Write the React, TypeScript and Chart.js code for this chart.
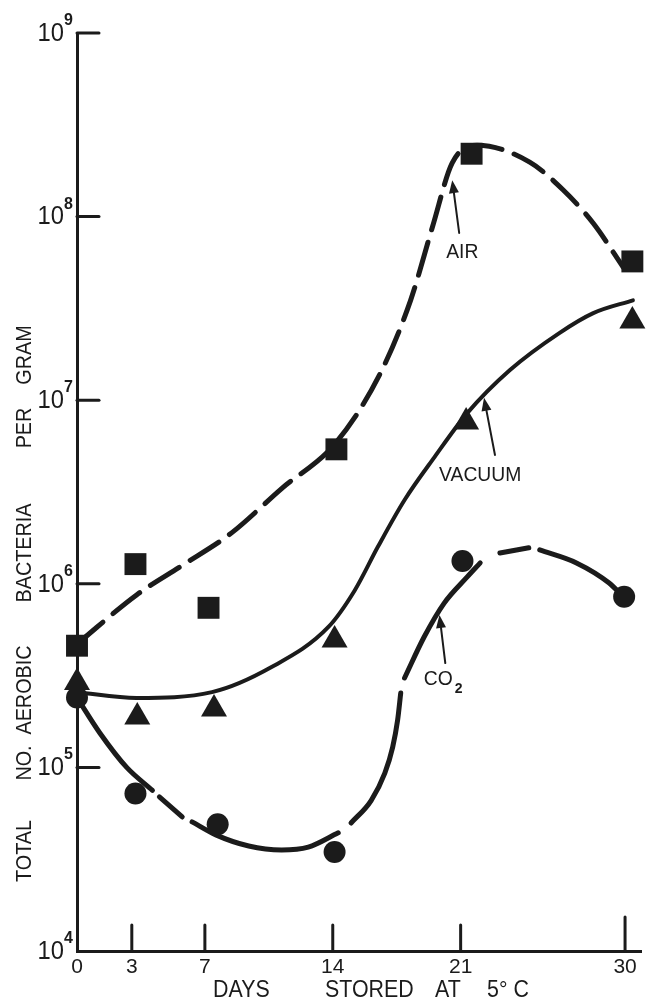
import React, { useEffect, useRef } from 'react';
import { Chart, registerables } from 'chart.js';

Chart.register(...registerables);

// ---- axis ticks ----
const dayTicks = [0, 3, 7, 14, 21, 30];
const countTicks = [1e4, 1e5, 1e6, 1e7, 1e8, 1e9];
const countExponents = ['4', '5', '6', '7', '8', '9'];

// ---- observed points ----
const airDays = [0, 3.2, 7.2, 14.2, 21.6, 30.4];
const airCounts = [4.6e5, 1.28e6, 7.4e5, 5.4e6, 2.2e8, 5.7e7];
const vacuumDays = [0, 3.3, 7.5, 14.1, 21.3, 30.4];
const vacuumCounts = [2.9e5, 1.88e5, 2.08e5, 4.94e5, 7.6e6, 2.7e7];
const co2Days = [0, 3.2, 7.7, 14.1, 21.1, 29.95];
const co2Counts = [2.4e5, 7.2e4, 4.9e4, 3.46e4, 1.33e6, 8.5e5];

// ---- fitted curves ----
const airCurveDays = [0, 3.26, 5.76, 8.48, 11.2, 14.13, 16.6, 18.26, 19.46, 20.54, 21.9, 24.78, 26.6, 28.26, 29.9];
const airCurveCounts = [4.7e5, 8.7e5, 1.26e6, 1.9e6, 3.3e6, 5.8e6, 1.4e7, 3.5e7, 8.8e7, 1.96e8, 2.45e8, 1.98e8, 1.4e8, 9.2e7, 5.3e7];

const vacuumCurveDays = [0, 3.26, 7.39, 10.65, 13.75, 15.2, 16.47, 17.93, 19.57, 21.36, 23.7, 26.4, 28.26, 30.43];
const vacuumCurveCounts = [2.57e5, 2.39e5, 2.57e5, 3.52e5, 5.8e5, 9.2e5, 1.59e6, 2.86e6, 4.9e6, 8.5e6, 1.46e7, 2.32e7, 2.98e7, 3.5e7];

const co2CurveADays = [0, 1.25, 2.72, 4.13];
const co2CurveACounts = [2.4e5, 1.54e5, 1.0e5, 7.5e4];
const co2CurveBDays = [4.51, 5.76];
const co2CurveBCounts = [6.9e4, 5.37e4];
const co2CurveCDays = [6.3, 7.6, 9.4, 11.2, 12.66, 14.3];
const co2CurveCCounts = [5.05e4, 4.29e4, 3.73e4, 3.55e4, 3.68e4, 4.4e4];
const co2CurveDDays = [15.0, 16.1, 16.85, 17.28, 17.55, 17.72];
const co2CurveDCounts = [4.98e4, 6.6e4, 9.3e4, 1.29e5, 1.81e5, 2.54e5];
const co2CurveEDays = [17.93, 19.0, 20.1, 21.36, 22.07];
const co2CurveECounts = [3.07e5, 5.13e5, 7.85e5, 1.09e6, 1.3e6];
const co2CurveFDays = [23.15, 24.73];
const co2CurveFCounts = [1.47e6, 1.57e6];
const co2CurveGDays = [25.33, 27.34, 29.13, 29.9];
const co2CurveGCounts = [1.53e6, 1.3e6, 1.01e6, 8.5e5];

// ---- annotation labels (data coordinates) ----
const labelTexts = ['AIR', 'VACUUM', 'CO'];
const labelDays = [21.09, 22.07, 19.78];
const labelCounts = [6.4e7, 3.92e6, 3.03e5];
const arrowTailDays = [20.92, 22.88, 20.16];
const arrowTailCounts = [8.15e7, 5.03e6, 3.7e5];
const arrowTipDays = [20.54, 22.28, 19.84];
const arrowTipCounts = [1.58e8, 1.03e7, 6.76e5];

const yTitleWords = ['TOTAL', 'NO.', 'AEROBIC', 'BACTERIA', 'PER', 'GRAM'];
const xTitleWords = ['DAYS', 'STORED', 'AT', '5° C'];

const INK = '#1b1b1b';
const FONT = '"Liberation Sans", Arial, sans-serif';

const zip = (xs: number[], ys: number[]) => xs.map((x, i) => ({ x, y: ys[i] }));

const curve = (xs: number[], ys: number[], width: number, dash: number[] = []) => ({
  type: 'scatter' as const,
  data: zip(xs, ys),
  showLine: true,
  borderColor: INK,
  borderWidth: width,
  borderDash: dash,
  borderCapStyle: 'round' as const,
  cubicInterpolationMode: 'monotone' as const,
  pointRadius: 0,
  pointHoverRadius: 0,
  clip: false as const,
  order: 2,
});

const markers = (xs: number[], ys: number[], style: string, radius: number) => ({
  type: 'scatter' as const,
  data: zip(xs, ys),
  showLine: false,
  pointStyle: style,
  pointRadius: radius,
  pointHoverRadius: radius,
  pointBackgroundColor: INK,
  pointBorderColor: INK,
  pointBorderWidth: 0,
  clip: false as const,
  order: 1,
});

// text drawn slightly condensed, like the stencil lettering of the original
const squeezedText = (ctx: CanvasRenderingContext2D, text: string, x: number, y: number, sx: number) => {
  ctx.save();
  ctx.translate(x, y);
  ctx.scale(sx, 1);
  ctx.fillText(text, 0, 0);
  ctx.restore();
};

const overlay = {
  id: 'overlay',
  afterDraw(chart: any) {
    const ctx = chart.ctx as CanvasRenderingContext2D;
    const xs = chart.scales.x;
    const ys = chart.scales.y;
    ctx.save();
    ctx.strokeStyle = INK;
    ctx.fillStyle = INK;
    ctx.lineCap = 'round';
    ctx.lineWidth = 3;
    const x0 = xs.left;
    const yb = ys.bottom;

    // y ticks (inward) and labels
    countTicks.forEach((v, i) => {
      const py = ys.getPixelForValue(v);
      if (i > 0) {
        ctx.beginPath();
        ctx.moveTo(x0, py);
        ctx.lineTo(x0 + 22, py);
        ctx.stroke();
      }
      ctx.font = `25px ${FONT}`;
      ctx.textAlign = 'right';
      ctx.textBaseline = 'middle';
      squeezedText(ctx, '10', 64, py + 1, 0.95);
      ctx.font = `bold 16px ${FONT}`;
      ctx.textAlign = 'left';
      ctx.textBaseline = 'alphabetic';
      ctx.fillText(countExponents[i], 64, py - 8);
    });

    // x ticks (upward)
    dayTicks.forEach((d) => {
      if (d === 0) return;
      const px = xs.getPixelForValue(d);
      const len = d === 30 ? 34 : 26;
      ctx.beginPath();
      ctx.moveTo(px, yb);
      ctx.lineTo(px, yb - len);
      ctx.stroke();
    });

    // y title words (rotated)
    const yWordCenters = [851, 763, 690, 553, 428, 355];
    ctx.font = `22px ${FONT}`;
    ctx.textAlign = 'center';
    ctx.textBaseline = 'middle';
    yTitleWords.forEach((w, i) => {
      ctx.save();
      ctx.translate(25, yWordCenters[i]);
      ctx.rotate(-Math.PI / 2);
      squeezedText(ctx, w, 0, 0, 0.9);
      ctx.restore();
    });

    // x title words
    const xWordLefts = [213, 325, 435, 487];
    ctx.font = `23px ${FONT}`;
    ctx.textAlign = 'left';
    ctx.textBaseline = 'middle';
    xTitleWords.forEach((w, i) => squeezedText(ctx, w, xWordLefts[i], 991, 0.93));

    // annotation labels and arrows
    labelTexts.forEach((t, i) => {
      const lx = xs.getPixelForValue(labelDays[i]);
      const ly = ys.getPixelForValue(labelCounts[i]);
      ctx.font = `21px ${FONT}`;
      ctx.textAlign = 'center';
      ctx.textBaseline = 'middle';
      squeezedText(ctx, t, lx, ly, 0.92);
      if (t === 'CO') {
        const w = ctx.measureText(t).width * 0.92;
        ctx.font = `bold 14px ${FONT}`;
        ctx.textAlign = 'left';
        ctx.fillText('2', lx + w / 2 + 2, ly + 10);
      }
      const tx = xs.getPixelForValue(arrowTailDays[i]);
      const ty = ys.getPixelForValue(arrowTailCounts[i]);
      const hx = xs.getPixelForValue(arrowTipDays[i]);
      const hy = ys.getPixelForValue(arrowTipCounts[i]);
      const ang = Math.atan2(hy - ty, hx - tx);
      const headLen = 13;
      const headW = 5;
      const bx = hx - Math.cos(ang) * headLen;
      const by = hy - Math.sin(ang) * headLen;
      ctx.lineWidth = 2;
      ctx.beginPath();
      ctx.moveTo(tx, ty);
      ctx.lineTo(bx, by);
      ctx.stroke();
      ctx.beginPath();
      ctx.moveTo(hx, hy);
      ctx.lineTo(bx + Math.sin(ang) * headW, by - Math.cos(ang) * headW);
      ctx.lineTo(bx - Math.sin(ang) * headW, by + Math.cos(ang) * headW);
      ctx.closePath();
      ctx.fill();
    });
    ctx.restore();
  },
};

export default function App() {
  const canvasRef = useRef<HTMLCanvasElement | null>(null);

  useEffect(() => {
    if (!canvasRef.current) return;
    const chart = new Chart(canvasRef.current, {
      type: 'scatter',
      data: {
        datasets: [
          markers(airDays, airCounts, 'rect', 15.5),
          markers(vacuumDays, vacuumCounts, 'triangle', 15),
          markers(co2Days, co2Counts, 'circle', 11),
          curve(airCurveDays, airCurveCounts, 5, [34, 13]),
          curve(vacuumCurveDays, vacuumCurveCounts, 4),
          curve(co2CurveADays, co2CurveACounts, 5),
          curve(co2CurveBDays, co2CurveBCounts, 5),
          curve(co2CurveCDays, co2CurveCCounts, 5),
          curve(co2CurveDDays, co2CurveDCounts, 5),
          curve(co2CurveEDays, co2CurveECounts, 5),
          curve(co2CurveFDays, co2CurveFCounts, 5),
          curve(co2CurveGDays, co2CurveGCounts, 5),
        ] as any,
      },
      options: {
        animation: false,
        responsive: true,
        maintainAspectRatio: false,
        events: [],
        layout: { padding: { top: 33, right: 12, left: 0, bottom: 0 } },
        plugins: { legend: { display: false }, tooltip: { enabled: false } },
        scales: {
          x: {
            type: 'linear',
            min: 0,
            max: 30.9,
            grid: { display: false, drawTicks: false },
            border: { display: true, width: 3, color: INK },
            afterBuildTicks: (s: any) => {
              s.ticks = dayTicks.map((v) => ({ value: v }));
            },
            afterFit: (s: any) => {
              s.height = 52;
            },
            ticks: {
              autoSkip: false,
              maxRotation: 0,
              padding: 4,
              color: INK,
              font: { family: FONT, size: 21 },
              callback: (v: any) => String(v),
            },
          },
          y: {
            type: 'logarithmic',
            min: 1e4,
            max: 1e9,
            grid: { display: false, drawTicks: false },
            border: { display: true, width: 3, color: INK },
            afterBuildTicks: (s: any) => {
              s.ticks = countTicks.map((v) => ({ value: v }));
            },
            afterFit: (s: any) => {
              s.width = 77;
            },
            ticks: { display: false },
          },
        },
      } as any,
      plugins: [overlay],
    });
    return () => chart.destroy();
  }, []);

  return (
    <div style={{ position: 'absolute', left: 0, top: 0, width: 657, height: 1003, background: '#fff' }}>
      <canvas ref={canvasRef} />
    </div>
  );
}
